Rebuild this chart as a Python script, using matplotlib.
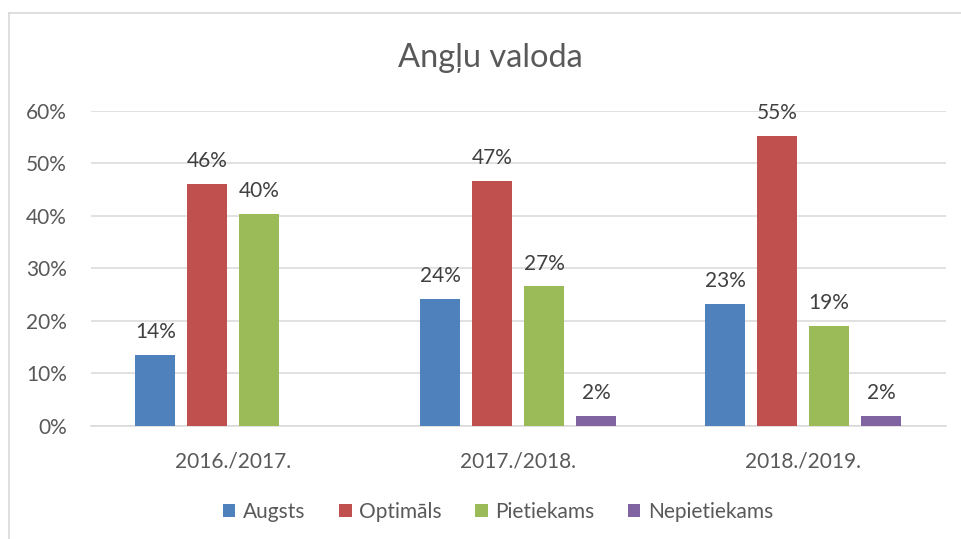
import numpy as np
import matplotlib
matplotlib.use("Agg")
import matplotlib.pyplot as plt
from matplotlib.lines import Line2D

years = ["2016./2017.", "2017./2018.", "2018./2019."]
series = ["Augsts", "Optimāls", "Pietiekams", "Nepietiekams"]
augsts = [13.6, 24.2, 23.3]
optimals = [46.1, 46.7, 55.2]
pietiekams = [40.3, 26.6, 19.0]
nepietiekams = [np.nan, 2.0, 2.0]
colors = ["#4F81BD", "#C0504D", "#9BBB59", "#8064A2"]

plt.rcParams['font.family'] = ['Lato', 'DejaVu Sans']

fig = plt.figure(figsize=(9.61, 5.39), dpi=100)
ax = fig.add_axes([0.0944, 0.2096, 0.8895, 0.5852])

x = np.arange(len(years))
w = 40 / 285
step = 52 / 285
data = [augsts, optimals, pietiekams, nepietiekams]
for i, (name, vals) in enumerate(zip(series, data)):
    pos = x + (i - 1.5) * step
    ax.bar(pos, vals, w, color=colors[i], label=name, zorder=3)
    for p, v in zip(pos, vals):
        if np.isnan(v):
            continue
        ax.annotate(f"{v:.0f}%", (p, v), xytext=(0, 12), textcoords="offset points",
                    ha="center", va="baseline", fontsize=15, color="#404040")

ax.set_xlim(-0.5, 2.5)
ax.set_ylim(0, 60)
ax.set_yticks(range(0, 61, 10))
ax.set_yticklabels([f"{t}%" for t in range(0, 61, 10)])
ax.set_xticks(x)
ax.set_xticklabels(years)
ax.yaxis.grid(True, color="#D9D9D9", linewidth=1.1, zorder=0)
ax.set_axisbelow(True)
for s in ["top", "right", "left"]:
    ax.spines[s].set_visible(False)
ax.spines["bottom"].set_color("#D9D9D9")
ax.spines["bottom"].set_linewidth(1.1)
ax.tick_params(axis="both", length=0, labelsize=15, labelcolor="#595959")
ax.tick_params(axis="y", pad=17)
ax.tick_params(axis="x", pad=18)

fig.text(0.51, 0.893, "Angļu valoda", ha="center", va="center", fontsize=23.5, color="#595959")

fig.legend(loc="center", bbox_to_anchor=(0.518, 0.05), ncol=4, frameon=False,
           fontsize=15, handlelength=0.62, handleheight=0.62, handletextpad=0.35,
           columnspacing=1.6, labelcolor="#595959")

fig.add_artist(Line2D([9 / 961, 9 / 961], [0, 1 - 12.5 / 539], color="#D9D9D9", linewidth=1.2))
fig.add_artist(Line2D([9 / 961, 1], [1 - 12.5 / 539, 1 - 12.5 / 539], color="#D9D9D9", linewidth=1.2))

fig.savefig("out.png", dpi=100)
